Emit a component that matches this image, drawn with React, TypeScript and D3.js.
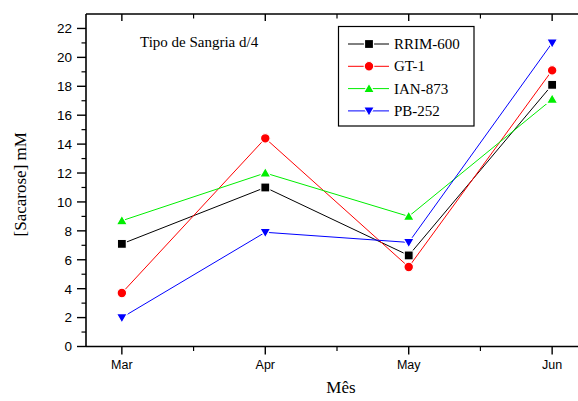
import React from "react";
import * as d3 from "d3";

const months = ["Mar", "Apr", "May", "Jun"];
const rrim600 = [7.1, 11.0, 6.3, 18.1];
const gt1 = [3.7, 14.4, 5.5, 19.1];
const ian873 = [8.7, 12.0, 9.0, 17.1];
const pb252 = [2.0, 7.9, 7.2, 21.0];
const yTicks = [0, 2, 4, 6, 8, 10, 12, 14, 16, 18, 20, 22];
const seriesNames = ["RRIM-600", "GT-1", "IAN-873", "PB-252"];

const series = [
  { name: seriesNames[0], values: rrim600, color: "#000000", shape: "square" },
  { name: seriesNames[1], values: gt1, color: "#ff0000", shape: "circle" },
  { name: seriesNames[2], values: ian873, color: "#00ee00", shape: "up" },
  { name: seriesNames[3], values: pb252, color: "#0000ff", shape: "down" },
];

const L = 86, R = 588, T = 14, B = 346.5;

function Marker({ shape, x, y, color }: { shape: string; x: number; y: number; color: string }) {
  const common = { fill: color, stroke: "#fff", strokeWidth: 1.2 };
  if (shape === "square") return <rect x={x - 4.5} y={y - 4.5} width={9} height={9} {...common} />;
  if (shape === "circle") return <circle cx={x} cy={y} r={4.8} {...common} />;
  if (shape === "up") return <path d={`M${x},${y - 5.5}L${x + 5.5},${y + 4}L${x - 5.5},${y + 4}Z`} {...common} />;
  return <path d={`M${x},${y + 5.5}L${x + 5.5},${y - 4}L${x - 5.5},${y - 4}Z`} {...common} />;
}

const sansStyle = { fontFamily: '"Liberation Sans", Arial, Helvetica, sans-serif' };
const serifStyle = { fontFamily: '"Liberation Serif", "Times New Roman", Times, "DejaVu Serif", serif' };

export default function App() {
  const x = d3.scaleLinear().domain([-0.25, 3.25]).range([L, R]);
  const y = d3.scaleLinear().domain([0, 23]).range([B, T]);
  const line = d3.line<number>().x((_, i) => x(i)).y((d) => y(d));
  const minorX = d3.range(-0.5, 3.6, 0.5).filter((v) => v > -0.25 && v < 3.25);
  const minorY = d3.range(1, 23, 2);

  return (
    <svg width={578} height={401} style={{ position: "absolute", left: 0, top: 0, background: "#fff" }}>
      {/* axes */}
      <line x1={L} y1={T} x2={L} y2={B + 0.5} stroke="#000" strokeWidth={1.6} />
      <line x1={L} y1={B} x2={R} y2={B} stroke="#000" strokeWidth={1.6} />
      <line x1={L} y1={T} x2={R} y2={T} stroke="#000" strokeWidth={1.6} />
      {/* y ticks */}
      {yTicks.map((t) => (
        <g key={"y" + t}>
          <line x1={L - 9} x2={L} y1={y(t)} y2={y(t)} stroke="#000" strokeWidth={1.4} />
          <text x={L - 14} y={y(t)} dy="0.36em" textAnchor="end" style={sansStyle} fontSize={13.5}>{t}</text>
        </g>
      ))}
      {minorY.map((t) => (
        <line key={"my" + t} x1={L - 4.5} x2={L} y1={y(t)} y2={y(t)} stroke="#000" strokeWidth={1.2} />
      ))}
      {/* x ticks */}
      {months.map((m, i) => (
        <g key={m}>
          <line x1={x(i)} x2={x(i)} y1={B} y2={B + 8} stroke="#000" strokeWidth={1.4} />
          <line x1={x(i)} x2={x(i)} y1={T} y2={T + 7} stroke="#000" strokeWidth={1.4} />
          <text x={x(i)} y={B + 22} textAnchor="middle" style={sansStyle} fontSize={12.5}>{m}</text>
        </g>
      ))}
      {minorX.filter((v) => Math.abs(v - Math.round(v)) > 0.1).map((v) => (
        <g key={"mx" + v}>
          <line x1={x(v)} x2={x(v)} y1={B} y2={B + 4.5} stroke="#000" strokeWidth={1.2} />
          <line x1={x(v)} x2={x(v)} y1={T} y2={T + 4.5} stroke="#000" strokeWidth={1.2} />
        </g>
      ))}
      {/* axis labels */}
      <text x={341} y={393} textAnchor="middle" style={serifStyle} fontSize={17}>Mês</text>
      <text transform={`translate(26,${(T + B) / 2 + 4}) rotate(-90)`} textAnchor="middle" style={serifStyle} fontSize={17}>[Sacarose] mM</text>
      <text x={140} y={47} style={serifStyle} fontSize={15}>Tipo de Sangria d/4</text>
      {/* series */}
      {series.map((s) => (
        <g key={s.name}>
          <path d={line(s.values) || ""} fill="none" stroke={s.color} strokeWidth={1} />
          {s.values.map((v, i) => (
            <Marker key={i} shape={s.shape} x={x(i)} y={y(v)} color={s.color} />
          ))}
        </g>
      ))}
      {/* legend */}
      <rect x={338.5} y={26.5} width={135.5} height={99.5} fill="#fff" stroke="#000" strokeWidth={1.2} />
      {series.map((s, i) => {
        const ly = 44 + i * 22.3;
        return (
          <g key={"lg" + s.name}>
            <line x1={348} x2={389} y1={ly} y2={ly} stroke={s.color} strokeWidth={1} />
            <Marker shape={s.shape} x={369} y={ly} color={s.color} />
            <text x={394} y={ly} dy="0.34em" style={serifStyle} fontSize={15}>{s.name}</text>
          </g>
        );
      })}
    </svg>
  );
}
